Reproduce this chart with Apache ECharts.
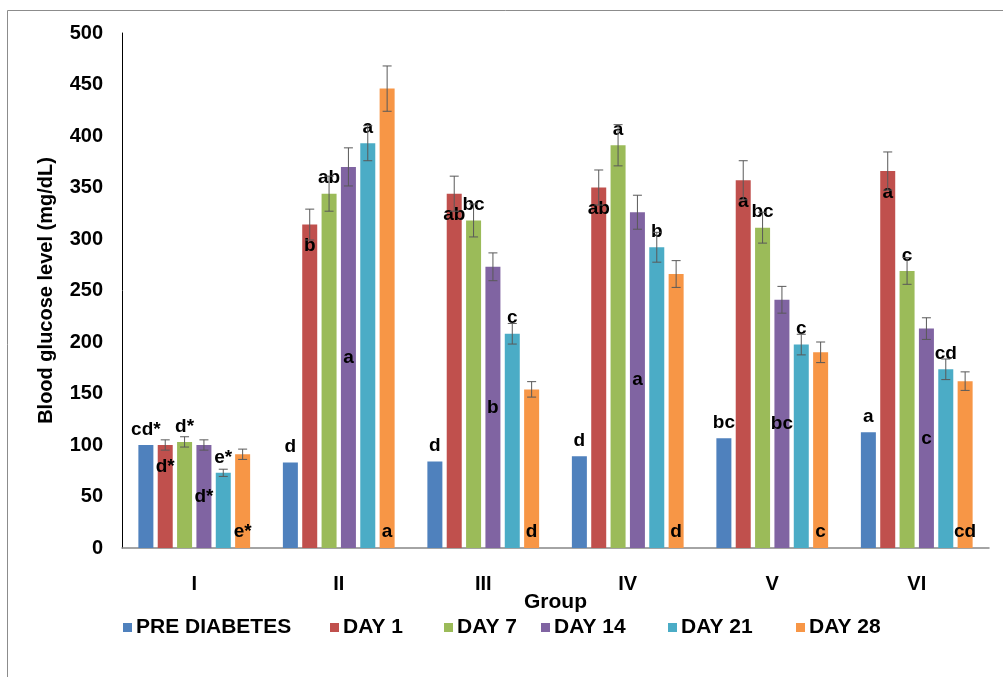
<!DOCTYPE html>
<html>
<head>
<meta charset="utf-8">
<script src="https://cdn.jsdelivr.net/npm/echarts@6/dist/echarts.min.js"></script>
<style>
    html, body { margin: 0; padding: 0; background: #fff; }
    #chart { width: 1003px; height: 677px; }
</style>
</head>
<body>
<div id="chart"></div>
<script>
    // 组别
    let groups = ['I', 'II', 'III', 'IV', 'V', 'VI'];
    let seriesNames = ['PRE DIABETES', 'DAY 1', 'DAY 7', 'DAY 14', 'DAY 21', 'DAY 28'];
    let yTicks = [0, 50, 100, 150, 200, 250, 300, 350, 400, 450, 500];

    // 血糖均值 (mg/dL)
    let preDiabetes = [100, 83, 84, 89, 106.5, 112.5];
    let day1 = [100, 314, 344, 350, 357, 366];
    let day7 = [103, 344, 318, 391, 311, 269];
    let day14 = [100, 370, 273, 326, 241, 213];
    let day21 = [73, 393, 208, 292, 197.5, 173.5];
    let day28 = [91, 446, 154, 266, 190, 162];

    // 误差
    let preErr = [0, 0, 0, 0, 0, 0];
    let day1Err = [5, 15, 17, 17, 19, 18.5];
    let day7Err = [5, 17, 16, 20, 15, 13];
    let day14Err = [5, 18.5, 13.5, 16.5, 13, 10.5];
    let day21Err = [3.5, 17, 10, 14.5, 10, 10];
    let day28Err = [5, 22, 7.5, 13, 10, 9];

    // 显著性字母
    let preLetters = ['cd*', 'd', 'd', 'd', 'bc', 'a'];
    let day1Letters = ['d*', 'b', 'ab', 'ab', 'a', 'a'];
    let day7Letters = ['d*', 'ab', 'bc', 'a', 'bc', 'c'];
    let day14Letters = ['d*', 'a', 'b', 'a', 'bc', 'c'];
    let day21Letters = ['e*', 'a', 'c', 'b', 'c', 'cd'];
    let day28Letters = ['e*', 'a', 'd', 'd', 'c', 'cd'];

    let values = [preDiabetes, day1, day7, day14, day21, day28];
    let errors = [preErr, day1Err, day7Err, day14Err, day21Err, day28Err];
    let letters = [preLetters, day1Letters, day7Letters, day14Letters, day21Letters, day28Letters];
    let colors = ['#4F81BD', '#C0504D', '#9BBB59', '#8064A2', '#4BACC6', '#F79646'];
    let labelPos = ['top', 'insideTop', 'top', 'inside', 'top', 'insideBottom'];
    let labelDist = [6, 12, 6, 5, 6, 7];
    let legendLeft = [123, 330, 444, 541, 668, 796];

    const FONT = '"Liberation Sans", Arial, sans-serif';
    const BAR_W = 15;
    const GAP = 0.29;

    let myChart = echarts.init(document.getElementById('chart'));

    let series = [];
    seriesNames.forEach((name, s) => {
        series.push({
            name: name,
            type: 'bar',
            barWidth: BAR_W,
            barGap: (GAP * 100) + '%',
            itemStyle: { color: colors[s] },
            label: {
                show: true,
                position: labelPos[s],
                distance: labelDist[s],
                color: '#000',
                fontFamily: FONT,
                fontWeight: 'bold',
                fontSize: 19,
                formatter: p => letters[s][p.dataIndex]
            },
            data: values[s]
        });
    });

    // 误差线
    seriesNames.forEach((name, s) => {
        if (s === 0) return;
        series.push({
            name: name + ' err',
            type: 'custom',
            z: 3,
            silent: true,
            encode: { x: 0, y: 1 },
            renderItem: function (params, api) {
                let cat = api.value(0), v = api.value(1), e = api.value(2);
                let hi = api.coord([cat, v + e]);
                let lo = api.coord([cat, v - e]);
                let x = hi[0] + (s - 2.5) * BAR_W * (1 + GAP);
                let cap = 4.5;
                let style = { stroke: '#595959', lineWidth: 1 };
                return {
                    type: 'group',
                    children: [
                        { type: 'line', shape: { x1: x, y1: hi[1], x2: x, y2: lo[1] }, style: style },
                        { type: 'line', shape: { x1: x - cap, y1: hi[1], x2: x + cap, y2: hi[1] }, style: style },
                        { type: 'line', shape: { x1: x - cap, y1: lo[1], x2: x + cap, y2: lo[1] }, style: style }
                    ]
                };
            },
            data: values[s].map((v, i) => [i, v, errors[s][i]])
        });
    });

    let legends = seriesNames.map((name, s) => ({
        data: [name],
        left: legendLeft[s],
        top: 617,
        padding: 0,
        icon: 'rect',
        itemWidth: 9,
        itemHeight: 9,
        itemGap: 4,
        selectedMode: false,
        textStyle: { color: '#000', fontFamily: FONT, fontWeight: 'bold', fontSize: 21, padding: [0, 0, 0, -1] }
    }));

    let option = {
        animation: false,
        backgroundColor: '#fff',
        textStyle: { fontFamily: FONT },
        graphic: [{
            type: 'rect',
            shape: { x: 7.5, y: 10.5, width: 1200, height: 900 },
            style: { fill: 'none', stroke: '#8c8c8c', lineWidth: 1 },
            silent: true
        }],
        legend: legends,
        grid: { left: 122, right: 14, top: 33, bottom: 129 },
        xAxis: {
            type: 'category',
            data: groups,
            name: 'Group',
            nameLocation: 'middle',
            nameGap: 44,
            nameMoveOverlap: false,
            nameTextStyle: { color: '#000', fontFamily: FONT, fontWeight: 'bold', fontSize: 21 },
            axisTick: { show: false },
            axisLine: { lineStyle: { color: '#868686', width: 1.5 } },
            axisLabel: { color: '#000', fontFamily: FONT, fontWeight: 'bold', fontSize: 20, margin: 26 }
        },
        yAxis: {
            type: 'value',
            min: yTicks[0],
            max: yTicks[yTicks.length - 1],
            interval: yTicks[1] - yTicks[0],
            name: 'Blood glucose level (mg/dL)',
            nameLocation: 'middle',
            nameGap: 66,
            nameMoveOverlap: false,
            nameTextStyle: { color: '#000', fontFamily: FONT, fontWeight: 'bold', fontSize: 20 },
            axisLine: { show: true, lineStyle: { color: '#000', width: 1 } },
            axisTick: { show: false },
            splitLine: { show: false },
            axisLabel: { color: '#000', fontFamily: FONT, fontWeight: 'bold', fontSize: 20, margin: 19 }
        },
        series: series
    };
    myChart.setOption(option);
</script>
</body>
</html>
